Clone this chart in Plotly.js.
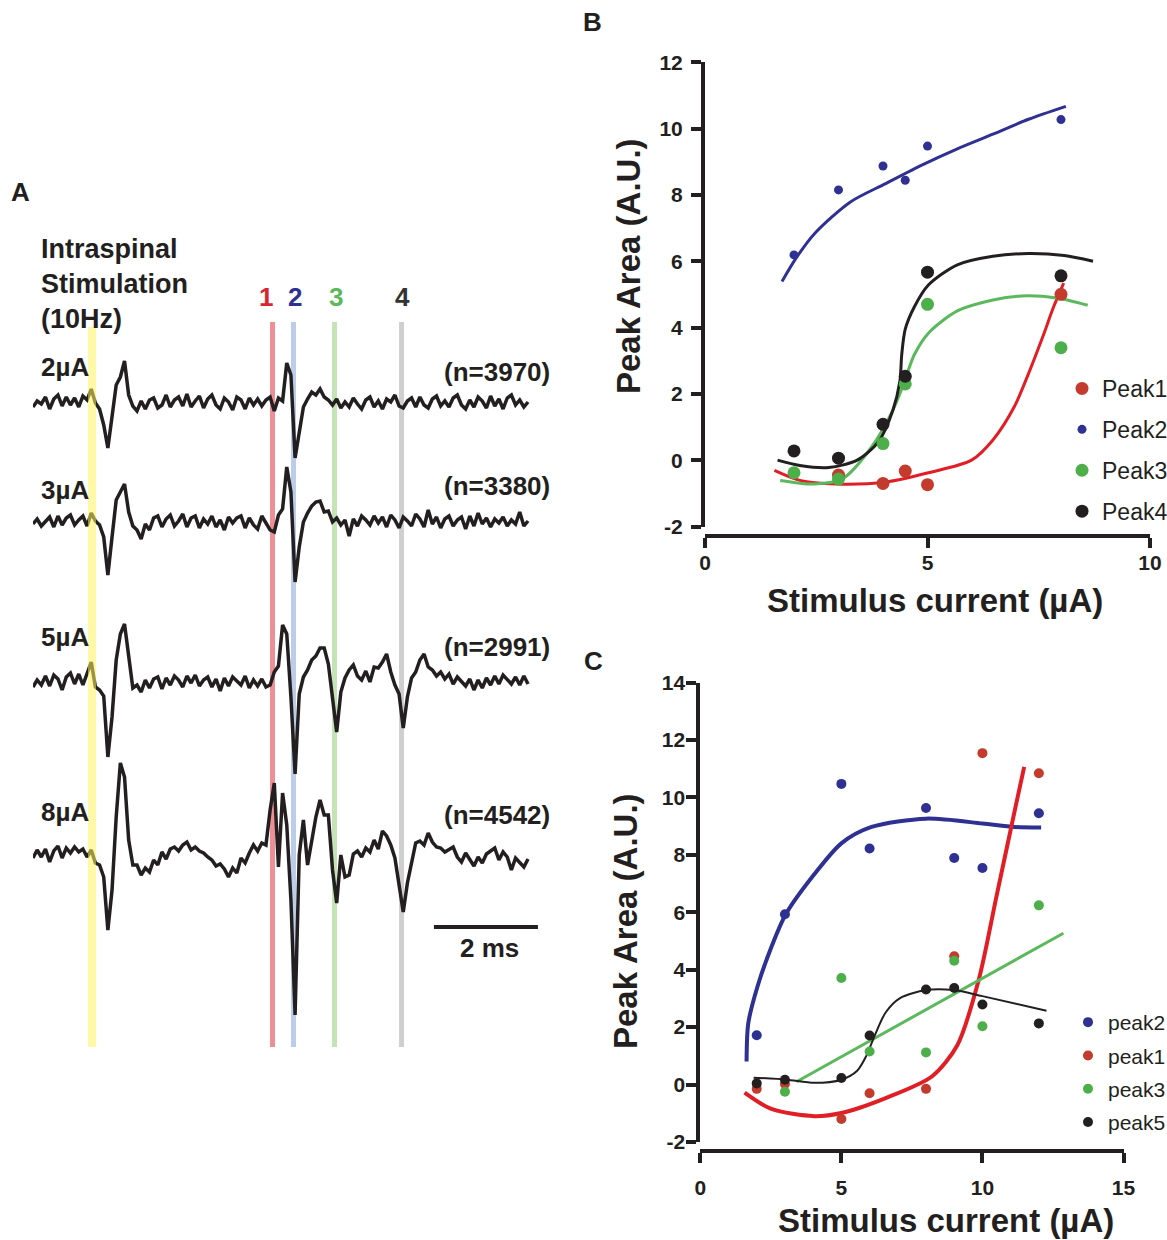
<!DOCTYPE html>
<html><head><meta charset="utf-8">
<script src="https://cdn.plot.ly/plotly-3.0.1.min.js"></script>
<style>html,body{margin:0;padding:0;background:#fff;overflow:hidden;width:1167px;height:1240px;}#chart{width:1167px;height:1240px;overflow:hidden;}</style>
</head><body><div id="chart"></div>
<script>
// ===== Panel A: averaged evoked traces =====
const sampleStepMs = 0.08;
const traceLabels = ['2µA', '3µA', '5µA', '8µA'];
const sweepCounts = ['(n=3970)', '(n=3380)', '(n=2991)', '(n=4542)'];
const trace2uA = [-4,2,-1,6,-6,4,8,-3,6,-2, 5,-4,7,3,14,0,-6,-22,-45,-10, 18,26,42,8,-3,-8,2,-6,3,5, -5,-2,8,-4,3,6,-3,9,-4,2, 7,-5,4,8,-2,-6,5,1,-7,6, 3,-6,5,-2,4,-3,3,6,-8,5, 2,40,28,-55,-28,-4,4,11,8,14, 6,3,-2,4,-5,1,-4,5,-1,-6, 3,6,-4,2,-6,4,1,8,-3,-5, 2,5,-4,6,-2,-5,4,7,-3,2, -4,5,8,-2,-6,3,-4,6,2,-5, 7,-3,4,-6,5,8,-2,3,-4,1];
const trace3uA = [-2,3,-4,1,5,-5,6,-3,4,7, -3,2,6,-4,9,1,-3,-15,-53,-15, 22,30,38,10,-4,-8,-17,-2,-8,4, 6,-5,3,7,-4,1,8,-5,4,6, -6,3,-2,6,-5,2,-8,5,-1,4, 6,-6,4,-3,-7,6,-1,-8,-10,7, 13,55,30,-60,-25,0,9,16,20,21, 10,11,0,4,-3,2,-14,3,-4,6, 2,-3,6,-1,5,-5,7,2,-6,5, 1,-4,8,3,-5,12,-2,5,-6,3, 6,-4,2,5,-7,6,-4,9,-2,4, -5,3,-1,5,-4,2,-2,10,-4,1];
const trace5uA = [-5,2,-3,6,-4,7,3,-8,5,9, -2,8,-3,8,20,-5,-8,-14,-75,-35, 22,48,58,26,-6,-3,-10,2,-6,3, 5,-7,4,-3,6,2,-5,6,-1,7, -4,2,5,-5,3,-9,4,-4,5,1, -3,6,-6,2,-4,3,-5,-3,10,16, 57,48,-15,-92,-12,5,12,22,26,34, 34,18,-15,-50,-10,4,12,17,6,2, 11,0,15,14,20,28,10,-3,-12,-46, -15,4,10,22,28,15,12,6,10,3, 8,-2,5,1,-4,3,-8,2,-6,4, -3,6,-2,7,2,-2,5,-3,6,-2];
const trace8uA = [-3,5,-2,6,-7,4,9,-3,7,2, 8,3,6,-2,5,-8,-10,-22,-75,-35, 38,92,78,15,-10,-10,-20,-13,-17,-5, -10,3,-4,6,8,4,10,13,5,8, 4,2,-2,-5,-11,-9,-14,-22,-13,-18, -3,-8,2,10,4,12,10,45,72,-12, 62,30,-45,-160,0,35,-10,16,38,55, 40,40,-15,-48,0,-22,-20,1,4,-2, 7,3,15,6,24,19,10,-3,-28,-57, -28,-8,12,14,10,22,13,8,7,3, 6,8,-2,-7,2,-4,-11,-2,-8,1, 4,7,-5,3,-2,-15,-3,-8,-12,-4];
const stimTimeMs = 1.135;
const peakTimesMs = [4.606, 5.01, 5.798, 7.087];
const peakLabels = ['1', '2', '3', '4'];
const scaleBarMs = 2;

// ===== Panel B =====
const currentB = [2, 3, 4, 4.5, 5, 8];
const peak1B = [null, -0.45, -0.70, -0.33, -0.74, 5.0];
const peak2B = [6.19, 8.15, 8.87, 8.44, 9.47, 10.27];
const peak3B = [-0.38, -0.57, 0.50, 2.30, 4.70, 3.39];
const peak4B = [0.28, 0.06, 1.08, 2.53, 5.67, 5.56];
const fitB1x = [1.56, 2.13, 2.94, 4.06, 5.02, 5.99, 6.47, 6.95, 7.27, 7.59, 7.83, 8.06];
const fitB1y = [-0.31, -0.61, -0.72, -0.66, -0.38, 0.0, 0.61, 1.61, 2.61, 3.72, 4.61, 5.34];
const fitB2x = [1.73, 2.05, 2.46, 3.26, 4.06, 4.86, 5.67, 6.47, 7.27, 8.11];
const fitB2y = [5.39, 6.1, 6.83, 7.78, 8.34, 8.89, 9.39, 9.83, 10.28, 10.67];
const fitB3x = [1.69, 2.46, 3.1, 3.74, 4.22, 4.46, 4.7, 5.02, 5.67, 6.47, 7.11, 7.91, 8.6];
const fitB3y = [-0.61, -0.72, -0.55, 0.39, 1.5, 2.28, 3.17, 3.83, 4.5, 4.83, 4.95, 4.89, 4.67];
const fitB4x = [1.63, 2.13, 2.78, 3.42, 3.9, 4.22, 4.38, 4.42, 4.5, 4.7, 5.02, 5.67, 6.47, 7.27, 8.07, 8.72];
const fitB4y = [0.0, -0.16, -0.22, 0.0, 0.56, 1.5, 2.39, 3.17, 3.95, 4.61, 5.28, 5.89, 6.15, 6.23, 6.17, 6.0];
const yTicksB = [-2, 0, 2, 4, 6, 8, 10, 12];
const xTicksB = [0, 5, 10];

// ===== Panel C =====
const currentC = [2, 3, 5, 6, 8, 9, 10, 12];
const peak2C = [1.72, 5.93, 10.47, 8.22, 9.63, 7.89, 7.54, 9.45];
const peak1C = [-0.15, 0.02, -1.2, -0.3, -0.15, 4.47, 11.54, 10.84];
const peak3C = [null, -0.25, 3.71, 1.15, 1.12, 4.31, 2.03, 6.24];
const peak5C = [0.04, 0.17, 0.23, 1.71, 3.31, 3.36, 2.79, 2.13];
const fitC2x = [1.64, 1.70, 2.02, 2.52, 3.03, 4.04, 5.0, 6.07, 8.0, 10.0, 11.13, 12.08];
const fitC2y = [0.80, 2.13, 3.39, 4.79, 5.93, 7.32, 8.4, 8.97, 9.26, 9.09, 8.97, 8.95];
const fitC1x = [1.57, 2.52, 4.04, 5.0, 6.57, 8.22, 9.11, 9.87, 10.5, 11.13, 11.48];
const fitC1y = [-0.28, -0.85, -1.1, -0.99, -0.47, 0.29, 1.37, 3.65, 6.56, 9.47, 11.06];
const fitC3x = [3.41, 12.87];
const fitC3y = [0.1, 5.27];
const fitC5x = [1.89, 3.06, 4.04, 5.0, 5.56, 5.88, 6.2, 6.57, 7.08, 8.0, 8.98, 10.0, 12.27];
const fitC5y = [0.24, 0.17, 0.06, 0.17, 0.48, 0.99, 1.75, 2.51, 3.01, 3.29, 3.29, 3.08, 2.57];
const yTicksC = [-2, 0, 2, 4, 6, 8, 10, 12, 14];
const xTicksC = [0, 5, 10, 15];

const xTitle = 'Stimulus current (µA)';
const yTitle = 'Peak Area (A.U.)';

// ===== layout helpers =====
const W = 1167, H = 1240;
const px = v => v / W;
const py = v => 1 - v / H;
const FONT = 'Liberation Sans, Arial, Helvetica, sans-serif';
const INK = '#231f20';
const C_RED_DOT = '#c23b2c', C_RED_LINE = '#e01e25';
const C_BLUE = '#2e3192', C_GREEN_DOT = '#4daf4a', C_GREEN_LINE = '#5cb85c';

const pxPerMs = 52;
const traceStartPx = 33, panelAEndPx = 570;
const traceBaselinesPx = [403, 522, 682, 855];
const tracesA = [trace2uA, trace3uA, trace5uA, trace8uA];
const data = [];

tracesA.forEach((arr, k) => {
  data.push({
    type: 'scatter', mode: 'lines', xaxis: 'x3', yaxis: 'y3', showlegend: false,
    x: arr.map((_, i) => i * sampleStepMs),
    y: arr.map(v => v - traceBaselinesPx[k]),
    line: {color: INK, width: 3.5}, hoverinfo: 'skip'
  });
});

// Panel B fits
[[fitB1x, fitB1y, C_RED_LINE], [fitB2x, fitB2y, C_BLUE], [fitB3x, fitB3y, C_GREEN_LINE], [fitB4x, fitB4y, INK]].forEach(([x, y, c]) => {
  data.push({type: 'scatter', mode: 'lines', x, y, xaxis: 'x', yaxis: 'y', showlegend: false,
    line: {color: c, width: 3, shape: 'spline', smoothing: 0.8}});
});
// Panel B points
[['Peak1', peak1B, C_RED_DOT, 13], ['Peak2', peak2B, C_BLUE, 9], ['Peak3', peak3B, C_GREEN_DOT, 13], ['Peak4', peak4B, INK, 13]].forEach(([name, y, c, s]) => {
  data.push({type: 'scatter', mode: 'markers', name, x: currentB, y, xaxis: 'x', yaxis: 'y',
    legend: 'legend', legendgroup: name + 'B', marker: {color: c, size: s}, cliponaxis: false});
});

// Panel C fits
[[fitC2x, fitC2y, C_BLUE, 4], [fitC1x, fitC1y, C_RED_LINE, 4], [fitC3x, fitC3y, C_GREEN_LINE, 3], [fitC5x, fitC5y, INK, 2]].forEach(([x, y, c, w]) => {
  data.push({type: 'scatter', mode: 'lines', x, y, xaxis: 'x2', yaxis: 'y2', showlegend: false,
    line: {color: c, width: w, shape: 'spline', smoothing: 0.8}});
});
[['peak2', peak2C, C_BLUE], ['peak1', peak1C, C_RED_DOT], ['peak3', peak3C, C_GREEN_DOT], ['peak5', peak5C, INK]].forEach(([name, y, c]) => {
  data.push({type: 'scatter', mode: 'markers', name, x: currentC, y, xaxis: 'x2', yaxis: 'y2',
    legend: 'legend2', legendgroup: name + 'C', marker: {color: c, size: 10}, cliponaxis: false});
});

const tickFont = {family: FONT, size: 21, color: INK, weight: 700};
const axisCommon = {showline: true, linecolor: INK, linewidth: 4, ticks: 'outside', ticklen: 10, tickwidth: 4,
  tickcolor: INK, showgrid: false, zeroline: false, tickfont: tickFont, fixedrange: true, tickmode: 'array'};

// band shapes
const bandColors = ['#ee8f95', '#bccde9', '#c4e3b6', '#cfcfcf'];
const shapes = [];
peakTimesMs.forEach((t, i) => {
  shapes.push({type: 'rect', xref: 'x3', yref: 'paper', x0: t - 0.048, x1: t + 0.048, y0: py(1047), y1: py(322),
    fillcolor: bandColors[i], line: {width: 0}, layer: 'below'});
});
shapes.push({type: 'rect', xref: 'x3', yref: 'paper', x0: stimTimeMs - 0.077, x1: stimTimeMs + 0.077, y0: py(1047), y1: py(327),
  fillcolor: '#fff35c', opacity: 0.55, line: {width: 0}, layer: 'above'});
// scale bar
const barStart = 7.71;
shapes.push({type: 'line', xref: 'x3', yref: 'paper', x0: barStart, x1: barStart + scaleBarMs, y0: py(927), y1: py(927),
  line: {color: INK, width: 4}});

const ann = [];
const txt = (text, x, y, size, opts = {}) => Object.assign({text, x: px(x), y: py(y), xref: 'paper', yref: 'paper',
  showarrow: false, xanchor: 'center', yanchor: 'middle', font: {family: FONT, size, color: INK, weight: 700}}, opts);
ann.push(txt('A', 20, 192, 26));
ann.push(txt('B', 592, 22, 26));
ann.push(txt('C', 593, 661, 26));
ann.push(txt('Intraspinal<br>Stimulation<br>(10Hz)', 39, 284, 27, {xanchor: 'left', align: 'left'}));
const labelYs = [367, 490, 637, 812];
const countYs = [372, 486, 647, 815];
traceLabels.forEach((t, i) => ann.push(txt(t, 39, labelYs[i], 26, {xanchor: 'left'})));
sweepCounts.forEach((t, i) => ann.push(txt(t, 552, countYs[i], 26, {xanchor: 'right'})));
const peakLabelColors = ['#d7262f', C_BLUE, C_GREEN_LINE, '#333333'];
const peakLabelShift = [-7, 1, 1, 1];
peakLabels.forEach((t, i) => ann.push({text: t, x: peakTimesMs[i], y: py(297), xref: 'x3', yref: 'paper', xshift: peakLabelShift[i],
  showarrow: false, xanchor: 'center', yanchor: 'middle', font: {family: FONT, size: 26, color: peakLabelColors[i], weight: 700}}));
ann.push({text: scaleBarMs + ' ms', x: barStart + scaleBarMs / 2, xshift: 4, y: py(948), xref: 'x3', yref: 'paper', showarrow: false,
  xanchor: 'center', yanchor: 'middle', font: {family: FONT, size: 26, color: INK, weight: 700}});
// axis titles
ann.push(txt(xTitle, 935, 600, 33));
ann.push(txt(xTitle, 946, 1220, 33));
ann.push(txt(yTitle, 629, 266, 33, {textangle: -90}));
ann.push(txt(yTitle, 625, 921, 33, {textangle: -90}));

const layout = {
  width: W, height: H, margin: {l: 0, r: 0, t: 0, b: 0, autoexpand: false}, paper_bgcolor: '#fff', plot_bgcolor: 'rgba(0,0,0,0)',
  font: {family: FONT, color: INK},
  xaxis3: {domain: [px(traceStartPx), px(panelAEndPx)], range: [0, (panelAEndPx - traceStartPx) / pxPerMs], visible: false, fixedrange: true},
  yaxis3: {domain: [0, 1], range: [-H, 0], visible: false, fixedrange: true, anchor: 'x3'},
  xaxis: Object.assign({}, axisCommon, {domain: [px(705), px(1150)], range: [0, 10], anchor: 'free', position: py(535.7),
    tickvals: xTicksB, ticktext: xTicksB.map(String), ticklabelstandoff: -3}),
  yaxis: Object.assign({}, axisCommon, {domain: [py(526.5), py(62.2)], range: [-2, 12], anchor: 'x',
    tickvals: yTicksB, ticktext: yTicksB.map(String), ticklabelstandoff: 4}),
  xaxis2: Object.assign({}, axisCommon, {domain: [px(700.3), px(1123.5)], range: [0, 15], anchor: 'free', position: py(1150.7),
    tickvals: xTicksC, ticktext: xTicksC.map(String), ticklabelstandoff: 7}),
  yaxis2: Object.assign({}, axisCommon, {domain: [py(1142), py(682.5)], range: [-2, 14], anchor: 'x2',
    tickvals: yTicksC, ticktext: yTicksC.map(String), ticklabelstandoff: -3}),
  legend: {x: px(1062), y: py(367), xanchor: 'left', yanchor: 'top', traceorder: 'grouped', tracegroupgap: 8,
    bgcolor: 'rgba(0,0,0,0)', font: {family: FONT, size: 23, color: INK}, itemsizing: 'trace'},
  legend2: {x: px(1068), y: py(1002), xanchor: 'left', yanchor: 'top', traceorder: 'grouped', tracegroupgap: 3,
    bgcolor: 'rgba(0,0,0,0)', font: {family: FONT, size: 21, color: INK}, itemsizing: 'trace'},
  shapes, annotations: ann, showlegend: true
};
Plotly.newPlot('chart', data, layout, {staticPlot: true, displayModeBar: false});
</script></body></html>
